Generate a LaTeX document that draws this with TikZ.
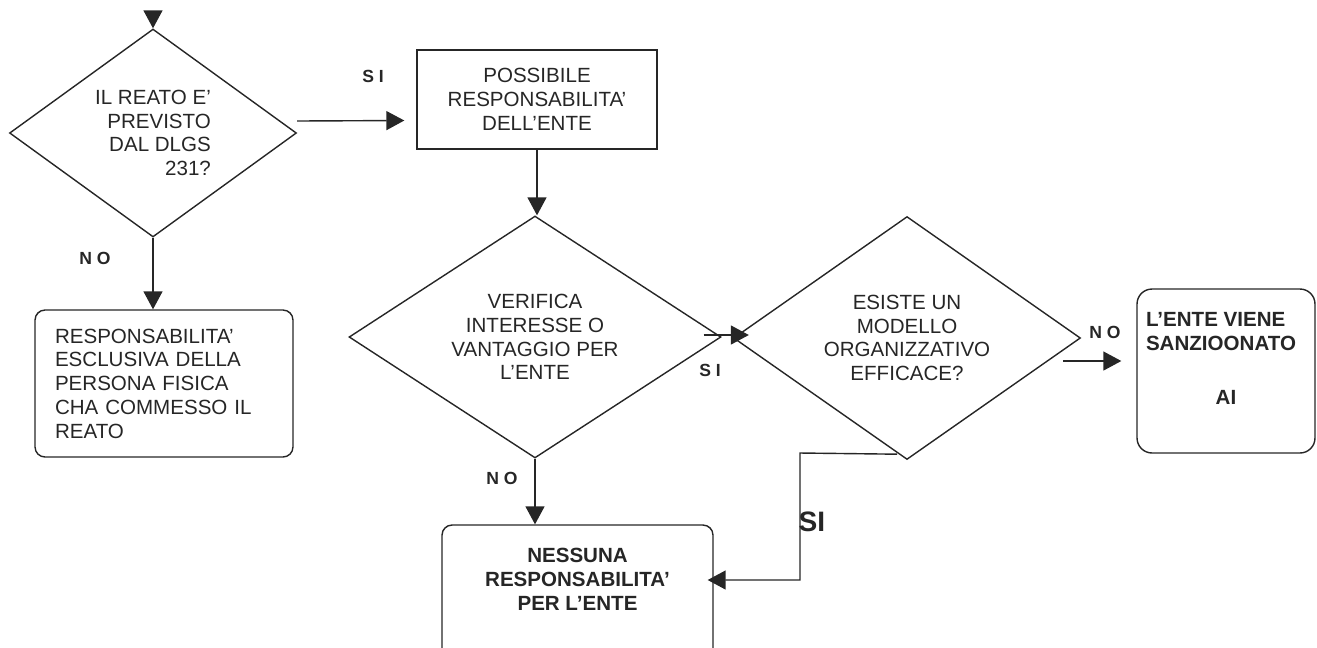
\documentclass[tikz,border=0pt]{standalone}
\usepackage{fontspec}
\setmainfont{Liberation Sans}
\usetikzlibrary{shapes.geometric,arrows.meta}

\begin{document}
\begin{tikzpicture}[x=0.02cm,y=-0.02cm]
        \tikzstyle{every node}+=[inner sep=0pt, text=black!85]
        \tikzstyle{ask}=[diamond, draw=black!85, line width=0.8pt, align=center, font=\fontsize{11.7}{13.5}\selectfont]
        \tikzstyle{plainbox}=[rectangle, draw=black!85, line width=0.8pt, align=center, font=\fontsize{11.7}{13.5}\selectfont]
        \tikzstyle{roundbox}=[plainbox, rounded corners=0.2cm]
        \tikzstyle{arr}=[draw=black!85, line width=0.8pt, -{Triangle[length=0.36cm,width=0.38cm]}]
        \tikzstyle{lab}=[font=\bfseries\fontsize{10}{12}\selectfont]
        \path[use as bounding box, clip] (0,0) rectangle (1317,647);
        \node [ask, align=right, minimum width=5.74cm, minimum height=4.16cm, aspect=1.38] (d1) at (153,133) {IL REATO E'\\PREVISTO\\DAL DLGS\\231?};
        \node [plainbox, minimum width=4.8cm, minimum height=1.98cm] (b1) at (537,99.5) {POSSIBILE\\RESPONSABILITA'\\DELL'ENTE};
        \node [roundbox, align=left, text width=4.36cm, minimum width=5.16cm, minimum height=2.94cm] (b2) at (164,383.5) {RESPONSABILITA'\\ESCLUSIVA DELLA\\PERSONA FISICA\\CHA COMMESSO IL\\REATO};
        \node [ask, minimum width=7.44cm, minimum height=4.84cm, aspect=1.54] (d2) at (535,337) {VERIFICA\\INTERESSE O\\VANTAGGIO PER\\L'ENTE};
        \node [ask, minimum width=6.94cm, minimum height=4.86cm, aspect=1.43] (d3) at (907,338) {ESISTE UN\\MODELLO\\ORGANIZZATIVO\\EFFICACE?};
        \node [roundbox, rounded corners=0.3cm, font=\bfseries\fontsize{11.7}{13.5}\selectfont, minimum width=3.56cm, minimum height=3.28cm] (b3) at (1226,371)
              {\begin{minipage}{3.2cm}L'ENTE VIENE\\SANZIOONATO\par\vspace{0.6cm}{\centering AI\par}\vspace{0.5cm}\end{minipage}};
        \node [roundbox, font=\bfseries\fontsize{11.7}{13.5}\selectfont, minimum width=5.42cm, minimum height=4cm] (b4) at (577.5,625)
              {\begin{minipage}{5cm}\centering NESSUNA\\RESPONSABILITA'\\PER L'ENTE\par\vspace{1.82cm}\end{minipage}};
        \node [lab] (si1) at (373,76) {S I};
        \node [lab] (no1) at (95,258) {N O};
        \node [lab] (si2) at (710,370) {S I};
        \node [lab] (no2) at (502,478) {N O};
        \node [lab] (no3) at (1105,332) {N O};
        \node [lab, font=\bfseries\fontsize{16}{18}\selectfont] (si3) at (812,522) {SI};
        \coordinate (entry) at (153,12);
        \coordinate (kneea) at (800,453);
        \coordinate (kneeb) at (800,580);
        \draw [arr] (entry) -- (d1.north);
        \draw [arr] ([shift={(0,-12)}]d1.east) -- ([shift={(-12,21)}]b1.west);
        \draw [arr] (b1.south) -- (b1.south |- d2.north);
        \draw [arr] (d1.south) -- (d1.south |- b2.north);
        \draw [arr] ([shift={(-18,-2)}]d2.east) -- ([shift={(16,-3)}]d3.west);
        \draw [arr] (d2.south) -- (d2.south |- b4.north);
        \draw [arr, shorten >=-0.12cm] ([shift={(-10,-6)}]d3.south) -- (kneea) -- (kneeb) -- (kneeb -| b4.east);
        \draw [arr] ([shift={(-18,23)}]d3.east) -- ([shift={(-15,-10)}]b3.west);
\end{tikzpicture}
\end{document}
